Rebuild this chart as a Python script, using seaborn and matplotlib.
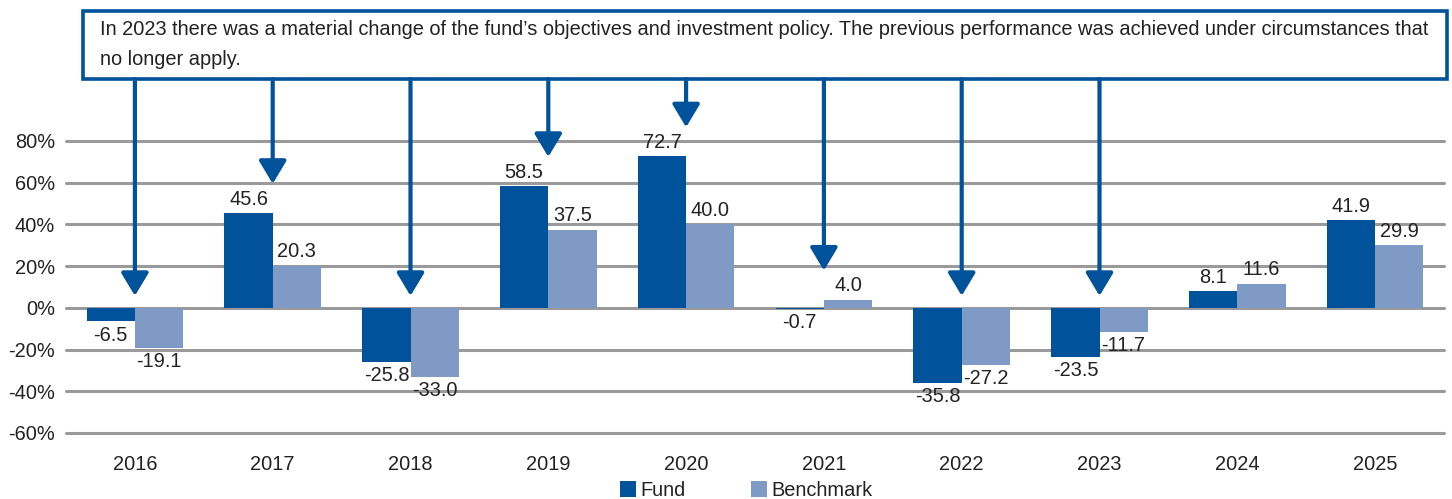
import numpy as np
import pandas as pd
import matplotlib
matplotlib.use("Agg")
import matplotlib.pyplot as plt
from matplotlib.patches import Rectangle, Patch
import seaborn as sns

# Calendar-year performance, in percent
years = ["2016", "2017", "2018", "2019", "2020", "2021", "2022", "2023", "2024", "2025"]
fund = [-6.5, 45.6, -25.8, 58.5, 72.7, -0.7, -35.8, -23.5, 8.1, 41.9]
benchmark = [-19.1, 20.3, -33.0, 37.5, 40.0, 4.0, -27.2, -11.7, 11.6, 29.9]
series_names = ["Fund", "Benchmark"]
y_ticks = [-60, -40, -20, 0, 20, 40, 60, 80]
note = ("In 2023 there was a material change of the fund\u2019s objectives and investment policy. "
        "The previous performance was achieved under circumstances that\nno longer apply.")
# Years to which the note applies
flagged_years = ["2016", "2017", "2018", "2019", "2020", "2021", "2022", "2023"]

FUND_BLUE = "#00529b"
BENCH_BLUE = "#7f9ac4"
GRID = "#9a9a9a"
TEXT = "#222222"
FS = 14.4

sns.set_style("white")
plt.rcParams["font.family"] = ["Liberation Sans", "DejaVu Sans"]

df = pd.DataFrame({
    "year": years * 2,
    "value": fund + benchmark,
    "series": [series_names[0]] * len(years) + [series_names[1]] * len(years),
})

W, H = 1452, 499
fig = plt.figure(figsize=(W / 100, H / 100), dpi=100)
ax = fig.add_axes([66 / W, 1 - 433 / H, (1444 - 66) / W, (433 - 141) / H])

sns.barplot(data=df, x="year", y="value", hue="series", order=years,
            hue_order=series_names, palette=[FUND_BLUE, BENCH_BLUE],
            width=0.7, gap=0, linewidth=0, saturation=1, errorbar=None,
            legend=False, ax=ax)

ax.set_ylim(y_ticks[0], y_ticks[-1])
ax.set_xlim(-0.5, len(years) - 0.5)
ax.set_yticks(y_ticks)
ax.set_yticklabels([f"{t}%" for t in y_ticks])
ax.set_xlabel("")
ax.set_ylabel("")
for s in ax.spines.values():
    s.set_visible(False)
for t in y_ticks:
    ax.axhline(t, color=GRID, lw=2.2, zorder=0.5, clip_on=False)
ax.tick_params(axis="y", length=0, pad=8, labelsize=FS, labelcolor=TEXT)
ax.tick_params(axis="x", length=0, pad=16, labelsize=FS, labelcolor=TEXT)

for cont in ax.containers:
    ax.bar_label(cont, fmt="%.1f", padding=3, fontsize=FS, color=TEXT)

# Note box above the plot
box_left, box_right = 83 / W, 1447 / W
box_bottom, box_top = 1 - 79 / H, 1 - 11 / H
fig.patches.append(Rectangle((box_left, box_bottom), box_right - box_left,
                             box_top - box_bottom, transform=fig.transFigure,
                             fill=False, edgecolor=FUND_BLUE, lw=2.6, zorder=5))
fig.text(100 / W, 1 - 20 / H, note, ha="left", va="top", fontsize=FS,
         color=TEXT, linespacing=1.72)

# Arrows from the note down to each affected year
px_per_unit = (433 - 141) / (y_ticks[-1] - y_ticks[0])
for yr in flagged_years:
    i = years.index(yr)
    top = max(fund[i], benchmark[i], 0)
    tip = top + 29 / px_per_unit if top > 0 else 12 / px_per_unit
    ax.annotate("", xy=(i, tip), xycoords="data",
                xytext=(i, box_bottom), textcoords=("data", "figure fraction"),
                arrowprops=dict(arrowstyle="-|>,head_length=0.7,head_width=0.42",
                                color=FUND_BLUE, lw=3.0, shrinkA=0, shrinkB=0,
                                mutation_scale=20),
                annotation_clip=False)

handles = [Patch(facecolor=FUND_BLUE, edgecolor="none"),
           Patch(facecolor=BENCH_BLUE, edgecolor="none")]
fig.legend(handles, series_names, loc="lower center", bbox_to_anchor=(0.514, -0.038),
           ncol=2, frameon=False, fontsize=FS, handlelength=0.8, handleheight=0.8,
           handletextpad=0.2, columnspacing=3.3, labelcolor=TEXT)

fig.savefig("out.png", dpi=100)
